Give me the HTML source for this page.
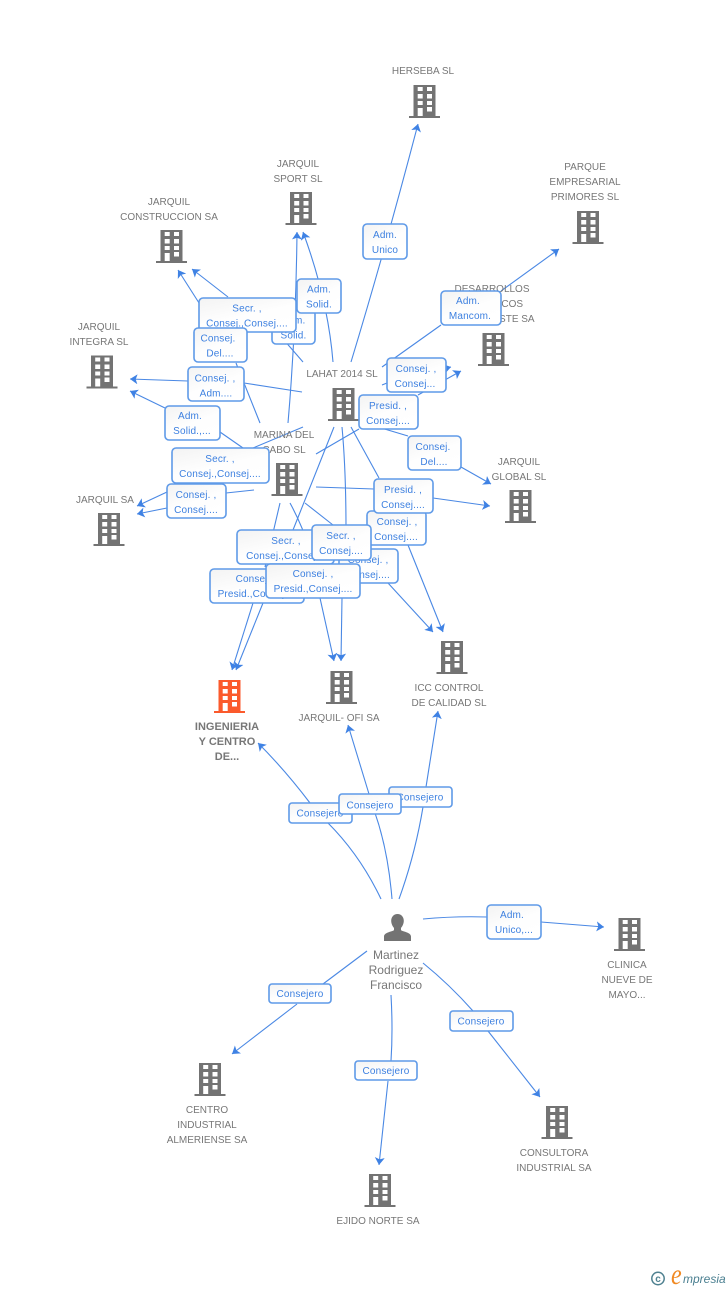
<!DOCTYPE html>
<html><head><meta charset="utf-8"><style>
html,body{margin:0;padding:0;background:#fff;width:728px;height:1290px;overflow:hidden}
svg{display:block;font-family:"Liberation Sans",sans-serif}
.n{font-size:10px;fill:#777;text-anchor:middle}
.p{font-size:12px;fill:#777;text-anchor:middle}
.b{font-size:11px;font-weight:bold;fill:#777;text-anchor:middle}
.t{font-size:10px;fill:#3d80e0;text-anchor:middle;letter-spacing:.15px}
.l{fill:none;stroke:#4a88e4;stroke-width:1.1}
.a{marker-end:url(#ar)}
.x{fill:url(#g);stroke:#5f9ae8;stroke-width:1.6}
</style></head><body>
<svg width="728" height="1290" viewBox="0 0 728 1290" xml:space="preserve">
<defs>
<linearGradient id="g" x1="0" y1="0" x2="0.6" y2="1"><stop offset="0" stop-color="#f3f3f3"/><stop offset="0.6" stop-color="#fefefe"/><stop offset="1" stop-color="#fff"/></linearGradient>
<marker id="ar" markerUnits="userSpaceOnUse" markerWidth="10" markerHeight="12" refX="7.5" refY="5" orient="auto"><path d="M7.5,5 L0,0 L1.8,5 L0,10 Z" fill="#3f82e4"/></marker>
<g id="bd"><path d="M4.5,0H26.5V31H31V33H0V31H4.5Z" fill="#737373"/><path d="M8.7,2h5v4h-5zM18,2h5v4h-5zM8.7,9h5v4.5h-5zM18,9h5v4.5h-5zM8.7,16h5v4h-5zM18,16h5v4h-5zM8.7,23h5v8h-5zM18,22h5v4.5h-5z" fill="#fff"/></g>
<g id="bo"><path d="M4.5,0H26.5V31H31V33H0V31H4.5Z" fill="#fb5a2c"/><path d="M8.7,2h5v4h-5zM18,2h5v4h-5zM8.7,9h5v4.5h-5zM18,9h5v4.5h-5zM8.7,16h5v4h-5zM18,16h5v4h-5zM8.7,23h5v8h-5zM18,22h5v4.5h-5z" fill="#fff"/></g>
</defs>

<!-- connectors -->
<path class="l a" d="M351,362Q385,250 418,124"/>
<path class="l a" d="M333,362Q328,300 303,232"/>
<path class="l a" d="M288,423Q296,330 297,232"/>
<path class="l" d="M303,362L277,332"/><path class="l a" d="M228,297L192,269"/>
<path class="l" d="M260,423L236,363"/><path class="l a" d="M215,328L178,270"/>
<path class="l" d="M302,392L244,383"/><path class="l a" d="M188,381L130,379"/>
<path class="l" d="M243,448L220,432"/><path class="l a" d="M165,408L130,391"/>
<path class="l" d="M303,427L253,448"/><path class="l" d="M188,483L184,484"/><path class="l a" d="M167,492L137,506"/>
<path class="l" d="M254,490L226,493"/><path class="l a" d="M167,508L137,514"/>
<path class="l" d="M382,367L441,325"/><path class="l a" d="M501,291L559,249"/>
<path class="l" d="M382,385L387,383"/><path class="l a" d="M400,380L451,367"/>
<path class="l" d="M316,454L359,429"/><path class="l a" d="M418,395L461,371"/>
<path class="l" d="M378,427L408,436"/><path class="l a" d="M461,467L491,484"/>
<path class="l" d="M316,487L374,489"/><path class="l a" d="M433,498L490,506"/>
<path class="l" d="M351,427L379,478"/><path class="l a" d="M408,545L443,632"/>
<path class="l" d="M305,503L333,525"/><path class="l a" d="M388,583L433,632"/>
<path class="l" d="M342,427Q346,470 346,530"/><path class="l a" d="M342,598L341,661"/>
<path class="l" d="M290,503Q302,525 310,550"/><path class="l a" d="M320,598L334,661"/>
<path class="l" d="M334,427L293,530"/><path class="l a" d="M263,603L236,670"/>
<path class="l" d="M280,503L265,567"/><path class="l a" d="M253,603L232,670"/>
<path class="l a" d="M381,899Q360,855 328,823L310,803Q285,770 258,743"/>
<path class="l a" d="M392,899Q388,850 375,813L369,794L348,725"/>
<path class="l a" d="M399,899Q415,855 423,807L426,787L438,711"/>
<path class="l" d="M423,919Q455,916 487,917"/><path class="l a" d="M541,922L604,927"/>
<path class="l" d="M367,951L323,984"/><path class="l a" d="M297,1004L232,1054"/>
<path class="l" d="M391,995Q393,1030 391,1061"/><path class="l a" d="M388,1081L379,1165"/>
<path class="l" d="M423,963Q450,985 473,1011"/><path class="l a" d="M488,1031L540,1097"/>

<!-- buildings -->
<use href="#bd" x="409" y="85"/>
<use href="#bd" x="572.5" y="211"/>
<use href="#bd" x="285.5" y="192"/>
<use href="#bd" x="156" y="230"/>
<use href="#bd" x="478" y="333"/>
<use href="#bd" x="86.5" y="355.5"/>
<use href="#bd" x="328" y="388"/>
<use href="#bd" x="271.5" y="463"/>
<use href="#bd" x="505" y="490"/>
<use href="#bd" x="93.5" y="513"/>
<use href="#bo" x="214" y="680"/>
<use href="#bd" x="326" y="671"/>
<use href="#bd" x="436.5" y="641"/>
<use href="#bd" x="614" y="918"/>
<use href="#bd" x="194.5" y="1063"/>
<use href="#bd" x="541.5" y="1106"/>
<use href="#bd" x="364.5" y="1174"/>
<path d="M397.5,914c3.8,0 6.3,3 6.3,6.8c0,3 -1.4,5.6 -2.8,7.2v2.2c3,1.6 10,2.4 10,6.3V941H384v-4.5c0,-3.9 7,-4.7 10,-6.3V928c-1.4,-1.6 -2.8,-4.2 -2.8,-7.2c0,-3.8 2.5,-6.8 6.3,-6.8Z" fill="#737373"/>

<!-- node labels -->
<text class="n" x="423" y="74">HERSEBA  SL</text>
<text class="n" x="298" y="167">JARQUIL</text><text class="n" x="298" y="182">SPORT SL</text>
<text class="n" x="169" y="205">JARQUIL</text><text class="n" x="169" y="220">CONSTRUCCION SA</text>
<text class="n" x="585" y="170">PARQUE</text><text class="n" x="585" y="185">EMPRESARIAL</text><text class="n" x="585" y="200">PRIMORES SL</text>
<text class="n" x="492" y="292">DESARROLLOS</text><text class="n" x="492" y="307">ATLANTICOS</text><text class="n" x="492" y="322">DEL SURESTE SA</text>
<text class="n" x="99" y="330">JARQUIL</text><text class="n" x="99" y="345">INTEGRA SL</text>
<text class="n" x="342" y="377">LAHAT 2014  SL</text>
<text class="n" x="284" y="438">MARINA DEL</text><text class="n" x="284" y="453">CABO  SL</text>
<text class="n" x="519" y="465">JARQUIL</text><text class="n" x="519" y="480">GLOBAL SL</text>
<text class="n" x="105" y="503">JARQUIL SA</text>
<text class="b" x="227" y="730">INGENIERIA</text><text class="b" x="227" y="745">Y CENTRO</text><text class="b" x="227" y="760">DE...</text>
<text class="n" x="339" y="721">JARQUIL- OFI SA</text>
<text class="n" x="449" y="691">ICC CONTROL</text><text class="n" x="449" y="706">DE CALIDAD SL</text>
<text class="p" x="396" y="959">Martinez</text><text class="p" x="396" y="974">Rodriguez</text><text class="p" x="396" y="989">Francisco</text>
<text class="n" x="627" y="968">CLINICA</text><text class="n" x="627" y="983">NUEVE DE</text><text class="n" x="627" y="998">MAYO...</text>
<text class="n" x="207" y="1113">CENTRO</text><text class="n" x="207" y="1128">INDUSTRIAL</text><text class="n" x="207" y="1143">ALMERIENSE SA</text>
<text class="n" x="554" y="1156">CONSULTORA</text><text class="n" x="554" y="1171">INDUSTRIAL SA</text>
<text class="n" x="378" y="1224">EJIDO NORTE SA</text>

<!-- connector labels -->
<rect class="x" x="272" y="310" width="43" height="34" rx="4"/><text class="t" x="293.5" y="323.5">Adm.</text><text class="t" x="293.5" y="338.5">Solid.</text>
<rect class="x" x="297" y="279" width="44" height="34" rx="4"/><text class="t" x="319" y="292.5">Adm.</text><text class="t" x="319" y="307.5">Solid.</text>
<rect class="x" x="199" y="298" width="97" height="34" rx="4"/><text class="t" x="247" y="311.5">Secr. ,</text><text class="t" x="247" y="326.5">Consej.,Consej....</text>
<rect class="x" x="194" y="328" width="53" height="34" rx="4"/><text class="t" x="218" y="341.5">Consej.</text><text class="t" x="220" y="356.5">Del....</text>
<rect class="x" x="188" y="367" width="56" height="34" rx="4"/><text class="t" x="215" y="381.5">Consej. ,</text><text class="t" x="216" y="396.5">Adm....</text>
<rect class="x" x="165" y="406" width="55" height="34" rx="4"/><text class="t" x="190" y="419">Adm.</text><text class="t" x="192" y="434">Solid.,...</text>
<rect class="x" x="172" y="448" width="97" height="35" rx="4"/><text class="t" x="220" y="462">Secr. ,</text><text class="t" x="220" y="477">Consej.,Consej....</text>
<rect class="x" x="167" y="484" width="59" height="34" rx="4"/><text class="t" x="196" y="498">Consej. ,</text><text class="t" x="196" y="513">Consej....</text>
<rect class="x" x="363" y="224" width="44" height="35" rx="4"/><text class="t" x="385" y="238">Adm.</text><text class="t" x="385" y="253">Unico</text>
<rect class="x" x="441" y="291" width="60" height="34" rx="4"/><text class="t" x="468" y="304">Adm.</text><text class="t" x="470" y="319">Mancom.</text>
<rect class="x" x="387" y="358" width="59" height="34" rx="4"/><text class="t" x="416" y="372">Consej. ,</text><text class="t" x="415" y="387">Consej...</text>
<rect class="x" x="359" y="395" width="59" height="34" rx="4"/><text class="t" x="388" y="409">Presid. ,</text><text class="t" x="388" y="424">Consej....</text>
<rect class="x" x="408" y="436" width="53" height="34" rx="4"/><text class="t" x="433" y="450">Consej.</text><text class="t" x="434" y="465">Del....</text>
<rect class="x" x="339" y="549" width="59" height="34" rx="4"/><text class="t" x="368" y="563">Consej. ,</text><text class="t" x="368" y="578">Consej....</text>
<rect class="x" x="367" y="511" width="59" height="34" rx="4"/><text class="t" x="397" y="525">Consej. ,</text><text class="t" x="396" y="540">Consej....</text>
<rect class="x" x="374" y="479" width="59" height="34" rx="4"/><text class="t" x="403" y="493">Presid. ,</text><text class="t" x="403" y="508">Consej....</text>
<rect class="x" x="237" y="530" width="97" height="34" rx="4"/><text class="t" x="286" y="544">Secr. ,</text><text class="t" x="287" y="559">Consej.,Consej....</text>
<rect class="x" x="312" y="525" width="59" height="35" rx="4"/><text class="t" x="341" y="539">Secr. ,</text><text class="t" x="341" y="554">Consej....</text>
<rect class="x" x="210" y="569" width="94" height="34" rx="4"/><text class="t" x="256" y="582">Consej. ,</text><text class="t" x="257" y="597">Presid.,Consej....</text>
<rect class="x" x="266" y="564" width="94" height="34" rx="4"/><text class="t" x="313" y="577">Consej. ,</text><text class="t" x="313" y="592">Presid.,Consej....</text>
<rect class="x" x="289" y="803" width="63" height="20" rx="3"/><text class="t" x="320" y="816.5">Consejero</text>
<rect class="x" x="389" y="787" width="63" height="20" rx="3"/><text class="t" x="420" y="800.5">Consejero</text>
<rect class="x" x="339" y="794" width="62" height="20" rx="3"/><text class="t" x="370" y="808.5">Consejero</text>
<rect class="x" x="487" y="905" width="54" height="34" rx="4"/><text class="t" x="512" y="918">Adm.</text><text class="t" x="514" y="933">Unico,...</text>
<rect class="x" x="269" y="984" width="62" height="19" rx="3"/><text class="t" x="300" y="997">Consejero</text>
<rect class="x" x="355" y="1061" width="62" height="19" rx="3"/><text class="t" x="386" y="1074">Consejero</text>
<rect class="x" x="450" y="1011" width="63" height="20" rx="3"/><text class="t" x="481" y="1024.5">Consejero</text>

<!-- footer -->
<circle cx="658" cy="1278.5" r="6.2" fill="none" stroke="#4f8190" stroke-width="1.5"/>
<text x="658" y="1282" font-size="10" font-weight="bold" fill="#4f8190" text-anchor="middle">c</text>
<text transform="translate(671,1284) scale(.8,1)" font-size="30" font-style="italic" font-family="Liberation Serif" fill="#f08a24">e</text>
<text x="683" y="1283" font-size="12" font-style="italic" fill="#4a7f90">mpresia</text>
</svg>
</body></html>
